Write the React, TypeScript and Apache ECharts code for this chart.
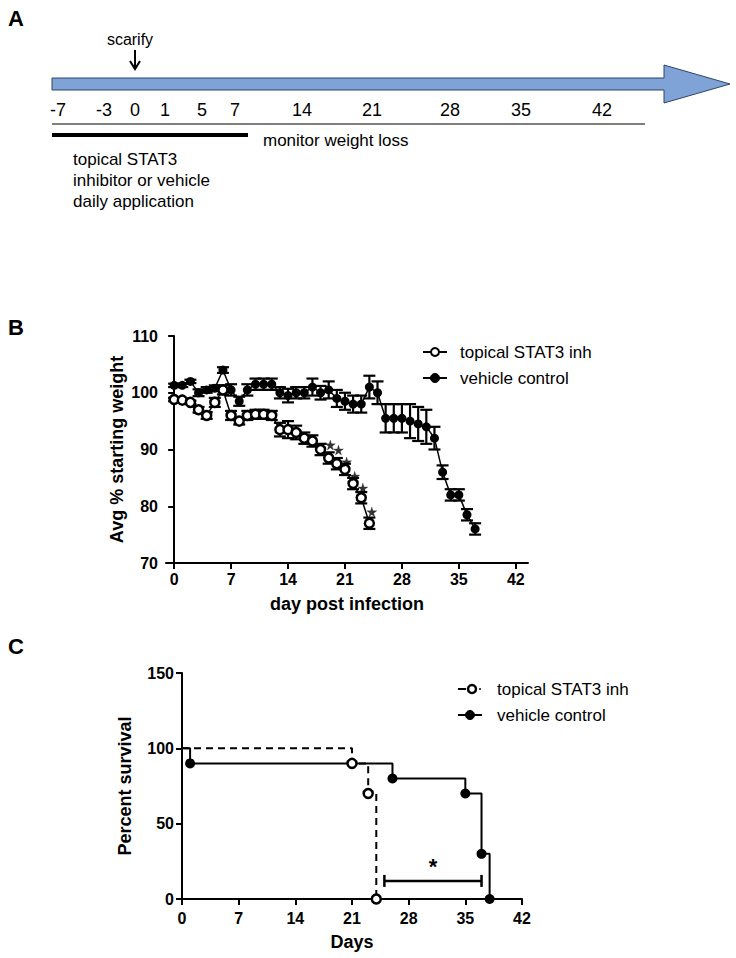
import React, { useEffect, useRef } from "react";
import * as echarts from "echarts";

// ---------- Panel B data: average % starting weight ----------
const stat3Days = [0, 1, 2, 3, 4, 5, 6, 7, 8, 9, 10, 11, 12, 13, 14, 15, 16, 17, 18, 19, 20, 21, 22, 23, 24];
const stat3Mean = [98.8, 98.7, 98.3, 97.0, 96.0, 98.3, 100.5, 96.0, 95.0, 96.0, 96.2, 96.2, 96.0, 93.5, 93.5, 93.0, 92.0, 91.5, 90.0, 88.5, 87.5, 86.5, 84.0, 81.5, 77.0];
const stat3Err = [0.3, 0.3, 0.3, 0.5, 0.6, 0.8, 0.8, 0.8, 0.6, 0.8, 0.8, 0.8, 0.8, 1.2, 1.5, 1.2, 1.0, 1.0, 1.0, 1.0, 1.0, 1.0, 1.0, 1.0, 1.0];

const vehicleDays = [0, 1, 2, 3, 4, 5, 6, 7, 8, 9, 10, 11, 12, 13, 14, 15, 16, 17, 18, 19, 20, 21, 22, 23, 24, 25, 26, 27, 28, 29, 30, 31, 32, 33, 34, 35, 36, 37];
const vehicleMean = [101.3, 101.3, 102.0, 100.0, 100.5, 100.8, 104.0, 100.5, 98.5, 100.5, 101.5, 101.5, 101.5, 100.0, 99.5, 100.0, 100.0, 101.0, 100.0, 100.5, 99.0, 98.5, 98.0, 98.0, 101.0, 100.0, 95.5, 95.5, 95.5, 95.0, 94.5, 94.0, 92.0, 86.0, 82.0, 82.0, 78.5, 76.0];
const vehicleErr = [0.3, 0.3, 0.3, 0.6, 0.5, 0.5, 0.5, 1.0, 0.8, 1.0, 1.0, 1.0, 1.0, 1.0, 1.2, 1.0, 1.0, 1.5, 1.2, 1.5, 1.5, 1.5, 1.5, 1.5, 2.0, 2.0, 2.5, 2.5, 2.5, 3.0, 3.0, 3.0, 2.0, 1.2, 1.0, 1.0, 1.0, 1.0];

const starDays = [19.2, 20.2, 21.2, 22.2, 23.2, 24.3];
const starValues = [90.8, 89.9, 87.8, 85.3, 83.2, 79.0];

const dayTicks = [0, 7, 14, 21, 28, 35, 42];

// ---------- Panel C data: survival ----------
const survStat3Days = [0, 21, 23, 24];
const survStat3Pct = [100, 90, 70, 0];
const survVehDays = [0, 1, 26, 35, 37, 38];
const survVehPct = [100, 90, 80, 70, 30, 0];
const sigFrom = 25;
const sigTo = 37;
const sigLevel = 12;

// ---------- Panel A (timeline diagram) ----------
const timelineLabels = ["-7", "-3", "0", "1", "5", "7", "14", "21", "28", "35", "42"];
const treatmentLines = ["topical STAT3", "inhibitor or vehicle", "daily application"];
const seriesNames = ["topical STAT3 inh", "vehicle control"];

// layout for timeline label placement (pixels)
const timelineLabelX = [58, 104, 135, 165, 202, 235, 302, 372, 450, 521, 602];

const FONT = '"Liberation Sans", Arial, sans-serif';
const STAR = "path://M50,0 L61,35 L98,35 L68,57 L79,91 L50,70 L21,91 L32,57 L2,35 L39,35 Z";

function errorBar(params: any, api: any) {
  const x = api.value(0);
  const lo = api.coord([x, api.value(1)]);
  const hi = api.coord([x, api.value(2)]);
  const h = 6;
  const st = { stroke: "#000", lineWidth: 2.2 };
  return {
    type: "group",
    children: [
      { type: "line", shape: { x1: lo[0], y1: lo[1], x2: hi[0], y2: hi[1] }, style: st },
      { type: "line", shape: { x1: hi[0] - h, y1: hi[1], x2: hi[0] + h, y2: hi[1] }, style: st },
      { type: "line", shape: { x1: lo[0] - h, y1: lo[1], x2: lo[0] + h, y2: lo[1] }, style: st },
    ],
  };
}

function sigBarItem(params: any, api: any) {
  const a = api.coord([api.value(0), api.value(2)]);
  const b = api.coord([api.value(1), api.value(2)]);
  const st = { stroke: "#000", lineWidth: 2.5 };
  return {
    type: "group",
    children: [
      { type: "line", shape: { x1: a[0], y1: a[1], x2: b[0], y2: b[1] }, style: st },
      { type: "line", shape: { x1: a[0], y1: a[1] - 6, x2: a[0], y2: a[1] + 6 }, style: st },
      { type: "line", shape: { x1: b[0], y1: b[1] - 6, x2: b[0], y2: b[1] + 6 }, style: st },
      {
        type: "text",
        style: {
          text: "*",
          x: (a[0] + b[0]) / 2,
          y: a[1] - 3,
          align: "center",
          verticalAlign: "bottom",
          fontSize: 22,
          fontWeight: "bold",
          fontFamily: FONT,
          fill: "#000",
        },
      },
    ],
  };
}

export default function App() {
  const ref = useRef<HTMLDivElement>(null);

  useEffect(() => {
    if (!ref.current) return;
    const chart = echarts.init(ref.current, null, { renderer: "svg" });

    const txt = (text: string, x: number, y: number, size: number, extra: any = {}) => ({
      type: "text",
      style: {
        text,
        x,
        y,
        fontSize: size,
        fontFamily: FONT,
        fill: "#000",
        verticalAlign: "middle",
        ...extra,
      },
    });

    const graphics: any[] = [];
    graphics.push(txt("A", 8, 18, 22, { fontWeight: "bold" }));
    graphics.push(txt("B", 8, 327, 22, { fontWeight: "bold" }));
    graphics.push(txt("C", 8, 646, 22, { fontWeight: "bold" }));

    graphics.push({
      type: "polygon",
      shape: {
        points: [
          [52, 78],
          [664, 78],
          [664, 65],
          [730, 84],
          [664, 103],
          [664, 90],
          [52, 90],
        ],
      },
      style: { fill: "#7FA3D6", stroke: "#2f4466", lineWidth: 1 },
    });
    graphics.push(txt("scarify", 130, 39, 16, { align: "center" }));
    graphics.push({ type: "line", shape: { x1: 135, y1: 50, x2: 135, y2: 68 }, style: { stroke: "#000", lineWidth: 2 } });
    graphics.push({
      type: "polyline",
      shape: { points: [[130, 61], [135, 69], [140, 61]] },
      style: { stroke: "#000", lineWidth: 2, fill: null },
    });
    timelineLabels.forEach((l, i) => graphics.push(txt(l, timelineLabelX[i], 110, 18, { align: "center" })));
    graphics.push({ type: "line", shape: { x1: 52, y1: 124, x2: 645, y2: 124 }, style: { stroke: "#555", lineWidth: 1.5 } });
    graphics.push({ type: "line", shape: { x1: 52, y1: 135, x2: 248, y2: 135 }, style: { stroke: "#000", lineWidth: 4 } });
    graphics.push(txt("monitor weight loss", 263, 140, 17));
    treatmentLines.forEach((l, i) => graphics.push(txt(l, 73, 159 + i * 21, 17)));

    const legB = [352, 378];
    graphics.push({ type: "line", shape: { x1: 423, y1: legB[0], x2: 447, y2: legB[0] }, style: { stroke: "#000", lineWidth: 2 } });
    graphics.push({ type: "circle", shape: { cx: 435, cy: legB[0], r: 4 }, style: { fill: "#fff", stroke: "#000", lineWidth: 2 } });
    graphics.push({ type: "line", shape: { x1: 423, y1: legB[1], x2: 447, y2: legB[1] }, style: { stroke: "#000", lineWidth: 2 } });
    graphics.push({ type: "circle", shape: { cx: 435, cy: legB[1], r: 4.5 }, style: { fill: "#000", stroke: "#000", lineWidth: 1 } });
    graphics.push(txt(seriesNames[0], 460, legB[0], 17));
    graphics.push(txt(seriesNames[1], 460, legB[1], 17));

    const legC = [689, 715];
    graphics.push({ type: "line", shape: { x1: 458, y1: legC[0], x2: 466, y2: legC[0] }, style: { stroke: "#000", lineWidth: 2 } });
    graphics.push({ type: "circle", shape: { cx: 472, cy: legC[0], r: 4 }, style: { fill: "#fff", stroke: "#000", lineWidth: 2.5 } });
    graphics.push({ type: "line", shape: { x1: 479, y1: legC[0], x2: 481, y2: legC[0] }, style: { stroke: "#000", lineWidth: 1.5 } });
    graphics.push({ type: "line", shape: { x1: 458, y1: legC[1], x2: 482, y2: legC[1] }, style: { stroke: "#000", lineWidth: 2 } });
    graphics.push({ type: "circle", shape: { cx: 470, cy: legC[1], r: 4.5 }, style: { fill: "#000", stroke: "#000", lineWidth: 1 } });
    graphics.push(txt(seriesNames[0], 497, legC[0], 17));
    graphics.push(txt(seriesNames[1], 497, legC[1], 17));

    const axisCommon = {
      axisLine: { show: true, lineStyle: { color: "#000", width: 2 } },
      axisTick: { show: true, length: 6, lineStyle: { color: "#000", width: 2 } },
      splitLine: { show: false },
      nameTextStyle: { fontSize: 18, fontWeight: "bold", fontFamily: FONT, color: "#000" },
      nameLocation: "middle",
    };
    const labelStyle = { fontSize: 16, fontWeight: "bold", fontFamily: FONT, color: "#000" };

    const stat3Line = stat3Days.map((d, i) => [d, stat3Mean[i]]);
    const vehLine = vehicleDays.map((d, i) => [d, vehicleMean[i]]);
    const stat3Bars = stat3Days.map((d, i) => [d, stat3Mean[i] - stat3Err[i], stat3Mean[i] + stat3Err[i]]);
    const vehBars = vehicleDays.map((d, i) => [d, vehicleMean[i] - vehicleErr[i], vehicleMean[i] + vehicleErr[i]]);
    const stars = starDays.map((d, i) => [d, starValues[i]]);

    const survData = (days: number[], pct: number[]) =>
      days.map((d, i) => (i === 0 ? { value: [d, pct[i]], symbol: "none" } : { value: [d, pct[i]] }));

    chart.setOption({
      animation: false,
      graphic: graphics,
      grid: [
        { left: 166, top: 336, width: 362, height: 227, outerBoundsMode: "none", containLabel: false },
        { left: 182, top: 673, width: 340, height: 226, outerBoundsMode: "none", containLabel: false },
      ],
      xAxis: [
        {
          ...axisCommon,
          type: "value",
          gridIndex: 0,
          min: -1,
          max: 43.5,
          name: "day post infection",
          nameGap: 32,
          axisTick: { ...axisCommon.axisTick, customValues: dayTicks },
          axisLabel: { ...labelStyle, margin: 8, customValues: dayTicks, showMinLabel: true, showMaxLabel: true },
        },
        {
          ...axisCommon,
          type: "value",
          gridIndex: 1,
          min: 0,
          max: 42,
          interval: 7,
          name: "Days",
          nameGap: 34,
          axisLabel: { ...labelStyle, margin: 11 },
        },
      ],
      yAxis: [
        {
          ...axisCommon,
          type: "value",
          gridIndex: 0,
          min: 70,
          max: 110,
          interval: 10,
          name: "Avg % starting weight",
          nameGap: 40,
          axisLabel: { ...labelStyle, margin: 8 },
        },
        {
          ...axisCommon,
          type: "value",
          gridIndex: 1,
          min: 0,
          max: 150,
          interval: 50,
          name: "Percent survival",
          nameGap: 48,
          axisLabel: { ...labelStyle, margin: 8 },
        },
      ],
      series: [
        {
          type: "custom",
          xAxisIndex: 0,
          yAxisIndex: 0,
          renderItem: errorBar,
          encode: { x: 0, y: [1, 2] },
          data: vehBars,
          z: 2,
        },
        {
          type: "custom",
          xAxisIndex: 0,
          yAxisIndex: 0,
          renderItem: errorBar,
          encode: { x: 0, y: [1, 2] },
          data: stat3Bars,
          z: 2,
        },
        {
          name: seriesNames[1],
          type: "line",
          xAxisIndex: 0,
          yAxisIndex: 0,
          data: vehLine,
          symbol: "circle",
          symbolSize: 9,
          itemStyle: { color: "#000" },
          lineStyle: { color: "#000", width: 1.5 },
          z: 3,
        },
        {
          name: seriesNames[0],
          type: "line",
          xAxisIndex: 0,
          yAxisIndex: 0,
          data: stat3Line,
          symbol: "circle",
          symbolSize: 9,
          itemStyle: { color: "#fff", borderColor: "#000", borderWidth: 2.5 },
          lineStyle: { color: "#000", width: 1.5 },
          z: 4,
        },
        {
          type: "scatter",
          xAxisIndex: 0,
          yAxisIndex: 0,
          data: stars,
          symbol: STAR,
          symbolSize: 10,
          itemStyle: { color: "#000", borderColor: "#000", borderWidth: 0.3 },
          z: 5,
        },
        {
          name: seriesNames[0],
          type: "line",
          xAxisIndex: 1,
          yAxisIndex: 1,
          step: "end",
          data: survData(survStat3Days, survStat3Pct),
          symbol: "circle",
          symbolSize: 9,
          itemStyle: { color: "#fff", borderColor: "#000", borderWidth: 2.5 },
          lineStyle: { color: "#000", width: 2, type: [7, 5] },
          z: 4,
        },
        {
          name: seriesNames[1],
          type: "line",
          xAxisIndex: 1,
          yAxisIndex: 1,
          step: "end",
          data: survData(survVehDays, survVehPct),
          symbol: "circle",
          symbolSize: 10,
          itemStyle: { color: "#000" },
          lineStyle: { color: "#000", width: 2 },
          z: 3,
        },
        {
          type: "custom",
          xAxisIndex: 1,
          yAxisIndex: 1,
          renderItem: sigBarItem,
          encode: { x: [0, 1], y: 2 },
          data: [[sigFrom, sigTo, sigLevel]],
          z: 5,
        },
      ],
    });

    return () => chart.dispose();
  }, []);

  return (
    <div
      ref={ref}
      style={{ position: "absolute", left: 0, top: 0, width: 736, height: 958, background: "#fff" }}
    />
  );
}
